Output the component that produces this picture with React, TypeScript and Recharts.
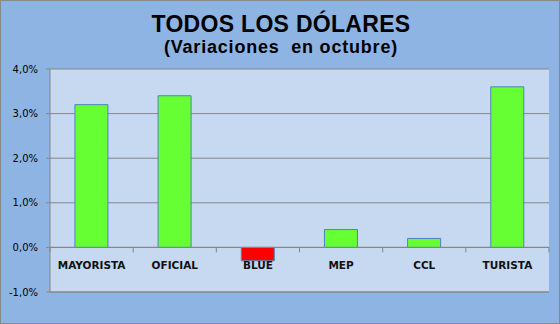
import React from 'react';
import { BarChart, Bar, XAxis, YAxis, CartesianGrid, ReferenceLine, Cell } from 'recharts';

const categories = ['MAYORISTA', 'OFICIAL', 'BLUE', 'MEP', 'CCL', 'TURISTA'];
const variations = [3.2, 3.4, -0.3, 0.4, 0.2, 3.6];
const yTicks = [-1, 0, 1, 2, 3, 4];

const data = categories.map((name, i) => ({ name, value: variations[i] }));

const W = 560;
const H = 324;
const PLOT_TOP = 69;
const PLOT_BOTTOM = 292;
const PLOT_LEFT = 50;
const PLOT_RIGHT = 549;
const PLOT_H = PLOT_BOTTOM - PLOT_TOP;
const Y_MIN = yTicks[0];
const Y_MAX = yTicks[yTicks.length - 1];
const ZERO_UP = (PLOT_H * (0 - Y_MIN)) / (Y_MAX - Y_MIN);
const BAND = (PLOT_RIGHT - PLOT_LEFT) / categories.length;

const fmt = (v: number) => v.toFixed(1).replace('.', ',') + '%';

// category labels sit under the zero line, like Excel does
const CategoryTick = (props: any) => {
  const { x, y, payload, index } = props;
  const zeroY = y - ZERO_UP;
  const half = BAND / 2;
  return (
    <g>
      <line x1={x - half} x2={x - half} y1={zeroY} y2={zeroY + 5} stroke="#868686" />
      {index === categories.length - 1 && (
        <line x1={x + half} x2={x + half} y1={zeroY} y2={zeroY + 5} stroke="#868686" />
      )}
      <text
        x={x}
        y={zeroY + 22}
        textAnchor="middle"
        fontFamily="DejaVu Sans"
        fontWeight="bold"
        fontSize={10.5}
        fill="#111"
      >
        {payload.value}
      </text>
    </g>
  );
};

export default function App() {
  return (
    <div
      style={{
        position: 'absolute',
        left: 0,
        top: 0,
        width: W,
        height: H,
        boxSizing: 'border-box',
        border: '1px solid #8a8a8a',
        background: '#8eb4e3',
        overflow: 'hidden',
      }}
    >
      <div
        style={{
          position: 'absolute',
          left: 0,
          width: W,
          top: 12,
          textAlign: 'center',
          fontFamily: '"Liberation Sans", Arial, sans-serif',
          fontWeight: 'bold',
          fontSize: 23,
          lineHeight: '23px',
          letterSpacing: 0.3,
          color: '#000',
        }}
      >
        TODOS LOS DÓLARES
      </div>
      <div
        style={{
          position: 'absolute',
          left: 0,
          width: W,
          top: 37,
          textAlign: 'center',
          fontFamily: '"Liberation Sans", Arial, sans-serif',
          fontWeight: 'bold',
          fontSize: 18,
          lineHeight: '18px',
          letterSpacing: 0.8,
          whiteSpace: 'pre',
          color: '#000',
        }}
      >
        (Variaciones  en octubre)
      </div>
      <div style={{ position: 'absolute', left: -1, top: -1 }}>
        <BarChart
          width={W}
          height={H}
          data={data}
          margin={{ top: PLOT_TOP, right: W - PLOT_RIGHT, bottom: H - PLOT_BOTTOM - 30, left: 0 }}
          barCategoryGap="30%"
        >
          <CartesianGrid vertical={false} stroke="#868686" fill="#c6d9f1" fillOpacity={1} />
          <XAxis
            dataKey="name"
            height={30}
            tickSize={0}
            tickMargin={0}
            axisLine={{ stroke: '#868686' }}
            tickLine={false}
            tick={<CategoryTick />}
            interval={0}
          />
          <YAxis
            width={PLOT_LEFT}
            domain={[Y_MIN, Y_MAX]}
            ticks={yTicks}
            tickFormatter={fmt}
            tickSize={4}
            tickMargin={8}
            axisLine={{ stroke: '#868686' }}
            tickLine={{ stroke: '#868686' }}
            tick={{ fontFamily: 'DejaVu Sans', fontSize: 10, fill: '#000' }}
            allowDataOverflow
          />
          <ReferenceLine y={0} stroke="#868686" />
          <Bar dataKey="value" stroke="#4f81bd" strokeWidth={1} isAnimationActive={false}>
            {data.map((d) => (
              <Cell key={d.name} fill={d.value < 0 ? '#ff0000' : '#66ff33'} />
            ))}
          </Bar>
        </BarChart>
      </div>
    </div>
  );
}
